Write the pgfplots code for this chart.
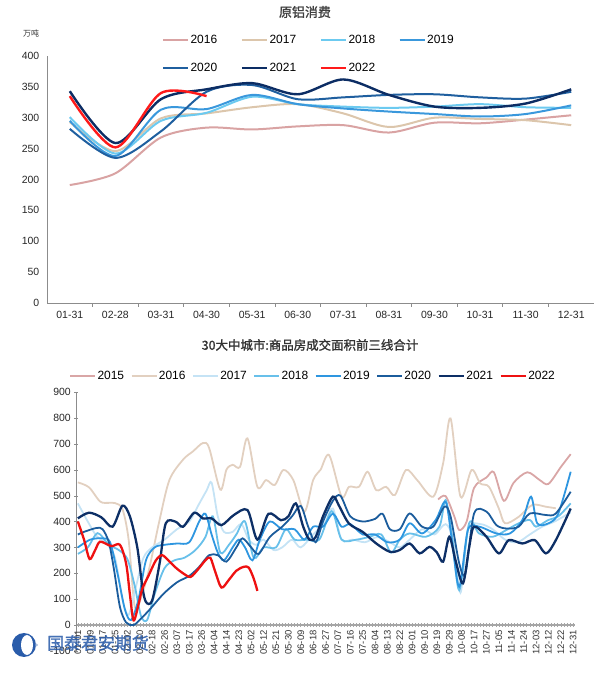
\documentclass[border=0pt]{standalone}
\usepackage{pgfplots}
\pgfplotsset{compat=1.18}
\usepackage{fontspec}
\setmainfont{Liberation Sans}
\newfontfamily\cjk{Noto Sans CJK SC}
\newfontfamily\cjkb[FakeBold=1.5]{Noto Sans CJK SC}

\definecolor{a16}{HTML}{D9A3A3}
\definecolor{a17}{HTML}{DCC6AC}
\definecolor{a18}{HTML}{6CCAF0}
\definecolor{a19}{HTML}{3A98DC}
\definecolor{a20}{HTML}{1F5F9F}
\definecolor{a21}{HTML}{0C2D64}
\definecolor{a22}{HTML}{FF1A1A}

\definecolor{b15}{HTML}{D9A6A6}
\definecolor{b16}{HTML}{E2D0C0}
\definecolor{b17}{HTML}{C5E3F5}
\definecolor{b18}{HTML}{68C0EA}
\definecolor{b19}{HTML}{2E96E0}
\definecolor{b20}{HTML}{1B5C9C}
\definecolor{b21}{HTML}{0D2F66}
\definecolor{b22}{HTML}{EE1111}
\definecolor{logo}{HTML}{2A5CAA}

\begin{document}
\begin{tikzpicture}[x=1bp,y=1bp]
\useasboundingbox (0,0) rectangle (609,673);

\node[font=\cjkb\fontsize{13}{13}\selectfont, text=black!75] at (305,661) {原铝消费};
\node[font=\cjk\fontsize{8}{9}\selectfont, text=black!80] at (31,640) {万吨};

\begin{axis}[
  at={(47bp,370bp)}, anchor=south west,
  scale only axis, width=547bp, height=247bp,
  xmin=0.5, xmax=12.5, ymin=0, ymax=400,
  axis x line*=bottom, axis y line*=left,
  axis line style={draw=black!45, line width=0.8bp},
  xtick={1,...,12},
  xticklabels={01-31,02-28,03-31,04-30,05-31,06-30,07-31,08-31,09-30,10-31,11-30,12-31},
  minor x tick num=1,
  major x tick style={draw=none},
  minor x tick style={draw=black!45, line width=0.8bp},
  minor tick length=4bp,
  tick align=outside,
  ytick={0,50,...,400},
  major y tick style={draw=none},
  tick label style={font=\fontsize{10.5}{11}\selectfont, text=black!85},
  /pgf/number format/assume math mode=true,
  legend columns=4,
  legend style={at={(axis description cs:0.21,1.09)}, anchor=north west, draw=none, fill=none, inner sep=0pt,
    font=\fontsize{12}{13}\selectfont, row sep=15bp, nodes={inner sep=1.5bp},
    /tikz/every even column/.append style={column sep=22bp}},
  legend cell align=left,
  legend image code/.code={\draw[#1] (0bp,0bp) -- (25bp,0bp);},
  every axis plot/.append style={smooth, line width=2bp, no markers},
]
\addplot[a16] coordinates {(1,191) (2,210) (3,268) (4,284) (5,281) (6,286) (7,288) (8,276) (9,292) (10,291) (11,297) (12,304)};
\addlegendentry{2016}
\addplot[a17] coordinates {(1,293) (2,246) (3,299) (4,307) (5,317) (6,322) (7,307) (8,285) (9,300) (10,298) (11,296) (12,288)};
\addlegendentry{2017}
\addplot[a18] coordinates {(1,301) (2,242) (3,295) (4,308) (5,334) (6,322) (7,318) (8,316) (9,318) (10,322) (11,317) (12,316)};
\addlegendentry{2018}
\addplot[a19] coordinates {(1,295) (2,238) (3,313) (4,314) (5,337) (6,322) (7,315) (8,310) (9,306) (10,302) (11,306) (12,320)};
\addlegendentry{2019}
\addplot[a20] coordinates {(1,282) (2,235) (3,278) (4,342) (5,353) (6,330) (7,333) (8,337) (9,338) (10,333) (11,331) (12,342)};
\addlegendentry{2020}
\addplot[a21, line width=2.4bp] coordinates {(1,343) (2,259) (3,330) (4,346) (5,356) (6,338) (7,362) (8,337) (9,318) (10,316) (11,323) (12,346)};
\addlegendentry{2021}
\addplot[a22, line width=2.4bp] coordinates {(1,335) (2,252) (3,340) (4,335)};
\addlegendentry{2022}
\end{axis}

\node[font=\cjkb\fontsize{12.5}{13}\selectfont, text=black!80] at (310,328) {30大中城市:商品房成交面积前三线合计};

\begin{axis}[
  at={(76bp,22bp)}, anchor=south west,
  scale only axis, width=499bp, height=259bp,
  xmin=-0.15, xmax=40.15, ymin=-100, ymax=900,
  axis x line*=middle, axis y line*=left,
  x axis line style={draw=black!35, line width=1.4bp},
  y axis line style={draw=black!45, line width=0.8bp},
  xtick={0,...,40},
  xticklabels={01-01,01-09,01-17,01-25,02-02,02-10,02-18,02-26,03-07,03-17,03-26,04-04,04-14,04-23,05-02,05-12,05-21,05-30,06-09,06-18,06-27,07-07,07-16,07-25,08-04,08-13,08-22,09-01,09-10,09-19,09-29,10-08,10-17,10-27,11-05,11-14,11-24,12-03,12-12,12-22,12-31},
  minor x tick num=3,
  x tick style={draw=black!35, line width=0.5bp},
  major tick length=3.5bp, minor tick length=3.5bp,
  tick align=center,
  xticklabel style={rotate=90, anchor=east, font=\fontsize{9.5}{10}\selectfont, text=black!80},
  ytick={-100,0,...,900},
  y tick style={draw=black!45},
  yticklabel style={font=\fontsize{10.5}{11}\selectfont, text=black!85},
  /pgf/number format/assume math mode=true,
  legend columns=8,
  legend style={at={(axis description cs:-0.014,1.062)}, anchor=west, draw=none, fill=none, inner sep=0pt,
    font=\fontsize{12}{13}\selectfont, nodes={inner sep=1.5bp},
    /tikz/every even column/.append style={column sep=5bp}},
  legend cell align=left,
  legend image code/.code={\draw[#1] (0bp,0bp) -- (25bp,0bp);},
  every axis plot/.append style={smooth, line width=1.8bp, no markers},
]
\addplot[b15] coordinates {(29.1,485) (29.7,498) (30.4,420) (30.8,367) (31.4,400) (32.0,530) (33.0,570) (33.6,590) (34.4,480) (35.2,550) (36.3,590) (37.3,560) (38.0,545) (39.0,610) (39.8,660)};
\addlegendentry{2015}
\addplot[b16] coordinates {(0,551) (0.9,532) (1.8,477) (2.5,472) (3.0,471) (3.6,448) (4.1,330) (4.6,70) (5.2,120) (5.8,226) (6.6,406) (7.4,561) (8.5,639) (9.3,671) (10.1,703) (10.6,684) (11.5,523) (12.0,600) (12.5,619) (13.1,611) (13.7,721) (14.5,534) (15.2,560) (15.9,541) (16.6,599) (17.4,560) (18.3,438) (19.0,560) (19.6,600) (20.3,656) (21.3,496) (21.9,534) (22.7,534) (23.4,592) (24.1,521) (24.9,534) (25.6,502) (26.5,599) (27.4,560) (28.7,496) (29.5,625) (30.1,798) (30.9,496) (31.8,599) (32.5,547) (33.2,534) (34.0,450) (34.5,393) (35.6,418) (36.7,464) (37.8,457) (38.6,451)};
\addlegendentry{2016}
\addplot[b17] coordinates {(0,470) (0.8,400) (1.5,345) (2.3,315) (3.0,260) (3.6,100) (4.1,40) (4.7,150) (5.3,260) (6.0,300) (7.0,330) (8.0,370) (9.0,400) (9.7,460) (10.4,520) (10.8,550) (11.3,420) (11.8,360) (12.5,360) (13.2,390) (13.8,330) (14.4,310) (15.0,330) (15.8,290) (16.5,300) (17.3,330) (18.0,300) (19.0,350) (20.0,400) (20.6,450) (21.3,330) (22.2,330) (23.2,320) (24.2,340) (25.2,320) (26.0,300) (26.8,330) (27.8,370) (28.8,350) (29.7,390) (30.3,330) (30.9,125) (31.5,370) (32.5,390) (33.5,370) (34.5,330) (35.5,320) (36.5,350) (37.5,380) (38.5,400) (39.8,435)};
\addlegendentry{2017}
\addplot[b18] coordinates {(0,275) (0.8,300) (1.6,355) (2.5,310) (3.3,290) (4.0,255) (4.6,150) (5.1,35) (5.6,20) (6.2,120) (7.0,220) (7.8,250) (8.6,260) (9.5,290) (10.3,340) (10.9,420) (11.5,280) (12.2,310) (12.8,350) (13.5,400) (14.2,260) (15.0,300) (16.0,300) (16.8,370) (17.5,330) (18.5,330) (19.5,330) (20.5,440) (21.3,330) (22.5,330) (23.5,340) (24.5,350) (25.3,280) (26.0,330) (26.8,354) (28.1,341) (29.2,380) (29.7,483) (30.2,350) (30.8,135) (31.6,393) (32.4,354) (33.5,341) (34.6,367) (35.6,393) (36.5,406) (37.0,380) (38.0,406) (38.8,420) (39.8,470)};
\addlegendentry{2018}
\addplot[b19] coordinates {(0,300) (1.0,330) (2.0,335) (2.6,320) (3.2,200) (3.8,60) (4.3,20) (4.9,100) (5.5,250) (6.2,300) (7.0,310) (8.0,315) (9.0,320) (9.8,400) (10.3,430) (10.8,350) (11.3,280) (11.8,250) (12.5,300) (13.0,330) (13.5,300) (14.1,250) (14.7,330) (15.5,400) (16.5,370) (17.5,370) (18.3,330) (19.0,380) (19.8,380) (20.6,430) (21.3,380) (22.0,390) (23.0,350) (24.0,350) (25.0,320) (26.0,330) (26.8,393) (27.8,354) (28.9,406) (29.7,476) (30.2,330) (30.8,148) (31.5,367) (32.4,380) (33.8,354) (34.9,354) (35.9,406) (36.6,496) (37.1,393) (38.0,393) (38.8,431) (39.8,592)};
\addlegendentry{2019}
\addplot[b20] coordinates {(0,350) (0.5,360) (1.5,375) (2.0,370) (2.5,320) (2.9,220) (3.4,70) (3.9,10) (4.5,0) (5.0,20) (5.8,60) (6.9,120) (8.0,165) (9.0,190) (9.8,225) (10.6,270) (11.3,270) (12.0,245) (12.8,300) (13.3,335) (14.0,300) (14.6,275) (15.5,340) (16.5,380) (17.3,420) (18.0,460) (18.6,380) (19.2,320) (19.8,400) (20.6,480) (21.2,500) (22.0,420) (23.0,400) (24.0,410) (24.6,430) (25.2,370) (26.0,370) (26.8,431) (27.8,380) (28.7,380) (29.6,457) (30.1,420) (30.8,238) (31.3,200) (32.0,431) (33.0,438) (33.8,386) (34.6,373) (35.6,380) (36.5,431) (37.8,425) (38.6,431) (39.8,515)};
\addlegendentry{2020}
\addplot[b21, line width=2.3bp] coordinates {(0,412) (0.9,434) (1.9,416) (2.8,380) (3.6,461) (4.2,420) (4.8,300) (5.2,150) (5.5,89) (6.0,95) (6.6,238) (7.1,393) (7.9,399) (8.5,380) (9.4,434) (10.1,412) (10.8,412) (11.6,386) (12.6,425) (13.7,444) (14.5,330) (15.4,430) (16.4,405) (17.0,420) (17.6,470) (18.2,380) (18.7,330) (19.2,340) (19.8,420) (20.6,496) (21.1,460) (21.9,392) (23.0,360) (24.1,315) (25.2,283) (26.0,290) (26.8,315) (27.6,277) (28.4,302) (29.0,280) (29.5,245) (30.0,341) (30.5,250) (31.1,161) (31.6,300) (32.0,380) (33.0,341) (34.0,277) (34.8,328) (35.9,315) (36.9,328) (37.8,277) (38.6,328) (39.8,450)};
\addlegendentry{2021}
\addplot[b22, line width=2.3bp] coordinates {(0,400) (0.5,330) (0.95,255) (1.4,290) (1.8,322) (2.7,305) (3.4,310) (3.9,237) (4.2,120) (4.5,18) (4.9,80) (5.2,140) (5.7,190) (6.3,250) (6.8,270) (7.3,250) (7.9,222) (8.5,200) (9.1,186) (9.7,215) (10.3,250) (10.7,260) (11.1,205) (11.6,145) (12.2,175) (12.8,210) (13.4,225) (13.8,222) (14.2,180) (14.5,132)};
\addlegendentry{2022}
\end{axis}

% logo watermark
\fill[logo] (24,28) circle (12);
\fill[white] (27,28) ellipse (6 and 10);
\fill[logo!40] (36.5,28) circle (1.5);
\node[font=\cjkb\fontsize{17}{17}\selectfont, text=logo, anchor=west, opacity=0.85, inner sep=0] at (47,30) {国泰君安期货};
\end{tikzpicture}
\end{document}
